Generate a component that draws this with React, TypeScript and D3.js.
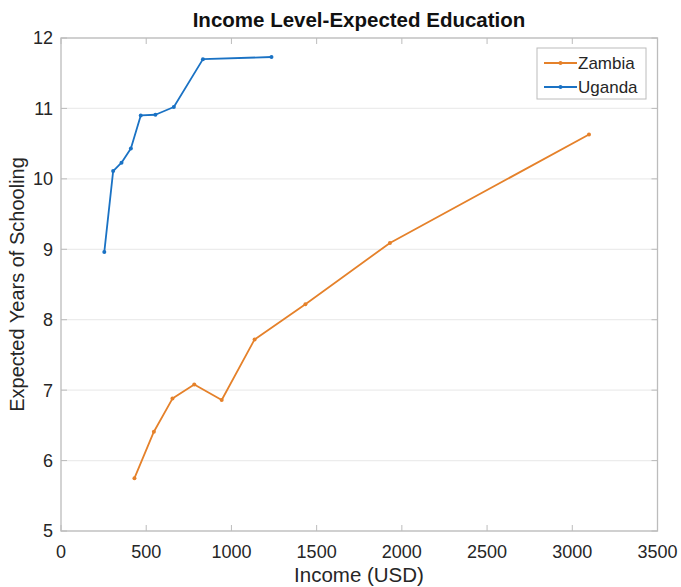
import React from "react";
import * as d3 from "d3";

const xTicks = [0, 500, 1000, 1500, 2000, 2500, 3000, 3500];
const yTicks = [5, 6, 7, 8, 9, 10, 11, 12];

const zambiaIncome = [431, 545, 654, 782, 943, 1136, 1434, 1930, 3098];
const zambiaYears = [5.75, 6.41, 6.88, 7.08, 6.86, 7.72, 8.22, 9.09, 10.63];

const ugandaIncome = [254, 306, 355, 410, 468, 554, 662, 833, 1235];
const ugandaYears = [8.96, 10.11, 10.23, 10.43, 10.9, 10.91, 11.02, 11.7, 11.73];

const seriesNames = ["Zambia", "Uganda"];
const seriesColors = ["#E5812A", "#1A72C4"];

const W = 681;
const H = 587;
const L = 61;
const R = 657.5;
const T = 38;
const B = 531;
const FONT = "'Liberation Sans', Arial, Helvetica, sans-serif";

export default function App() {
  const x = d3.scaleLinear().domain([0, 3500]).range([L, R]);
  const y = d3.scaleLinear().domain([5, 12]).range([B, T]);
  const line = d3
    .line<[number, number]>()
    .x((d) => x(d[0]))
    .y((d) => y(d[1]));

  const series = [
    zambiaIncome.map((v, i) => [v, zambiaYears[i]] as [number, number]),
    ugandaIncome.map((v, i) => [v, ugandaYears[i]] as [number, number]),
  ];

  const axisColor = "#bcbcbc";
  const gridColor = "#ececec";
  const textColor = "#262626";

  return (
    <svg
      width={W}
      height={H}
      style={{ position: "absolute", left: 0, top: 0, background: "#fff" }}
      fontFamily={FONT}
    >
      <rect x={0} y={0} width={W} height={H} fill="#fff" />
      {/* grid */}
      {yTicks.map((t) => (
        <line key={"g" + t} x1={L} x2={R} y1={y(t)} y2={y(t)} stroke={gridColor} strokeWidth={1.2} />
      ))}
      {/* ticks */}
      {xTicks.map((t) => (
        <g key={"xt" + t}>
          <line x1={x(t)} x2={x(t)} y1={B} y2={B - 6} stroke={axisColor} strokeWidth={1} />
          <line x1={x(t)} x2={x(t)} y1={T} y2={T + 6} stroke={axisColor} strokeWidth={1} />
          <text x={x(t)} y={558} textAnchor="middle" fontSize={18} fill={textColor}>
            {t}
          </text>
        </g>
      ))}
      {yTicks.map((t) => (
        <g key={"yt" + t}>
          <line x1={L} x2={L + 6} y1={y(t)} y2={y(t)} stroke={axisColor} strokeWidth={1} />
          <line x1={R} x2={R - 6} y1={y(t)} y2={y(t)} stroke={axisColor} strokeWidth={1} />
          <text x={53} y={y(t)} dy="0.36em" textAnchor="end" fontSize={18} fill={textColor}>
            {t}
          </text>
        </g>
      ))}
      {/* box */}
      <rect x={L} y={T} width={R - L} height={B - T} fill="none" stroke={axisColor} strokeWidth={1.3} />
      {/* series */}
      {series.map((s, i) => (
        <g key={"s" + i}>
          <path d={line(s) || ""} fill="none" stroke={seriesColors[i]} strokeWidth={1.8} strokeLinejoin="round" />
          {s.map((d, j) => (
            <circle key={j} cx={x(d[0])} cy={y(d[1])} r={2} fill={seriesColors[i]} />
          ))}
        </g>
      ))}
      {/* legend */}
      <rect x={537} y={48} width={109} height={51} fill="#fff" stroke={axisColor} strokeWidth={1} />
      {seriesNames.map((n, i) => (
        <g key={"l" + n}>
          <line x1={544} x2={577} y1={63 + i * 24} y2={63 + i * 24} stroke={seriesColors[i]} strokeWidth={1.8} />
          <circle cx={560.5} cy={63 + i * 24} r={2} fill={seriesColors[i]} />
          <text x={578} y={63 + i * 24} dy="0.36em" fontSize={17} fill={textColor}>
            {n}
          </text>
        </g>
      ))}
      {/* title & labels */}
      <text x={359} y={27} textAnchor="middle" fontSize={20.5} fontWeight="bold" fill="#111">
        Income Level-Expected Education
      </text>
      <text x={359} y={582} textAnchor="middle" fontSize={20.5} fill={textColor}>
        Income (USD)
      </text>
      <text
        transform={`translate(24,${(T + B) / 2}) rotate(-90)`}
        textAnchor="middle"
        fontSize={20}
        fill={textColor}
      >
        Expected Years of Schooling
      </text>
    </svg>
  );
}
